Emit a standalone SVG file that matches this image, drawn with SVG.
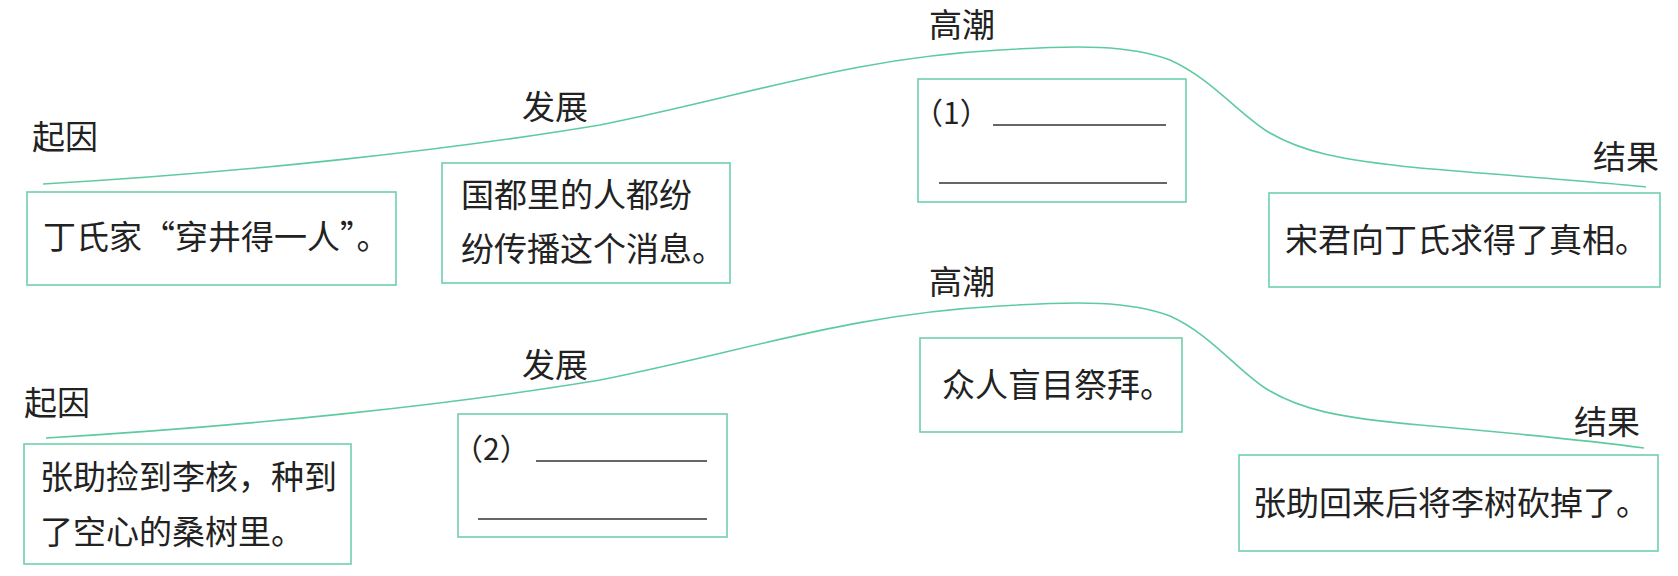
<svg xmlns="http://www.w3.org/2000/svg" width="1678" height="576" viewBox="0 0 1678 576">
<style>
.bg{fill:#ffffff}
.box{fill:none;stroke:#6fd0aa;stroke-width:1.6}
.curve{fill:none;stroke:#5ecb9f;stroke-width:1.6}
.t{font-family:"Noto Sans CJK SC","Noto Sans",sans-serif;font-size:33px;fill:#222}
.ul{stroke:#333;stroke-width:1.6}
</style>
<rect class="bg" x="0" y="0" width="1678" height="576"/>
<g id="connectors">
<path class="curve" d="M43,184 C250,172 450,150 600,125 C750,95 850,58 1000,50 C1080,45 1130,45 1170,60 C1210,78 1235,110 1265,130 C1300,152 1340,160 1420,168 C1500,175 1600,182 1646,187"/>
<path class="curve" d="M46,438 C250,426 450,405 600,380 C750,350 850,314 1000,306 C1080,301 1130,301 1170,316 C1210,334 1235,368 1265,388 C1300,410 1340,418 1420,425 C1500,432 1600,442 1644,448"/>
</g>
<g id="labels">
<text class="t" x="32" y="149">起因</text>
<text class="t" x="522" y="119">发展</text>
<text class="t" x="929" y="37">高潮</text>
<text class="t" x="1593" y="169">结果</text>
<text class="t" x="24" y="415">起因</text>
<text class="t" x="522" y="377">发展</text>
<text class="t" x="929" y="294">高潮</text>
<text class="t" x="1574" y="434">结果</text>
</g>
<g id="node-cause1">
<rect class="box" x="27" y="192" width="369" height="93"/>
<text class="t" x="43" y="249">丁氏家“穿井得一人”。</text>
</g>
<g id="node-dev1">
<rect class="box" x="442" y="163" width="288" height="120"/>
<text class="t" x="461" y="207">国都里的人都纷</text>
<text class="t" x="461" y="261">纷传播这个消息。</text>
</g>
<g id="node-climax1">
<rect class="box" x="918" y="79" width="268" height="123"/>
<text class="t" x="913" y="124" style="font-size:30px">（1）</text>
<line class="ul" x1="993" y1="125" x2="1166" y2="125"/>
<line class="ul" x1="939" y1="183" x2="1167" y2="183"/>
</g>
<g id="node-result1">
<rect class="box" x="1269" y="193" width="391" height="94"/>
<text class="t" x="1285" y="252">宋君向丁氏求得了真相。</text>
</g>
<g id="node-cause2">
<rect class="box" x="24" y="444" width="327" height="120"/>
<text class="t" x="40" y="489">张助捡到李核，种到</text>
<text class="t" x="40" y="544">了空心的桑树里。</text>
</g>
<g id="node-dev2">
<rect class="box" x="458" y="414" width="269" height="123"/>
<text class="t" x="453" y="460" style="font-size:30px">（2）</text>
<line class="ul" x1="536" y1="461" x2="707" y2="461"/>
<line class="ul" x1="478" y1="519" x2="707" y2="519"/>
</g>
<g id="node-climax2">
<rect class="box" x="920" y="338" width="262" height="94"/>
<text class="t" x="942" y="397">众人盲目祭拜。</text>
</g>
<g id="node-result2">
<rect class="box" x="1239" y="455" width="419" height="96"/>
<text class="t" x="1253" y="515">张助回来后将李树砍掉了。</text>
</g>
</svg>
